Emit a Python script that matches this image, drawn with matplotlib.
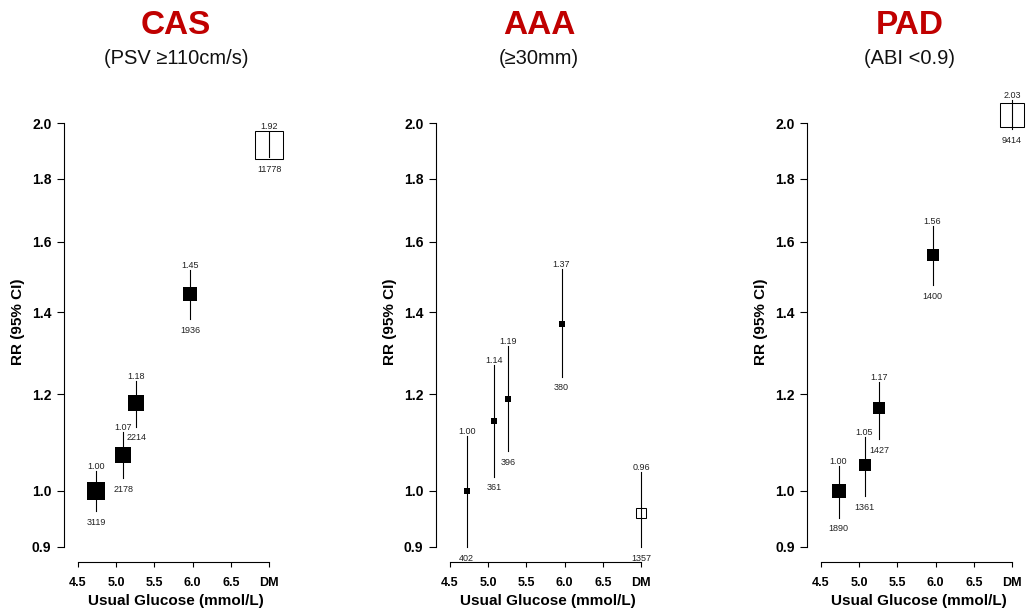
import numpy as np
import matplotlib.pyplot as plt
from matplotlib.ticker import FixedLocator, NullLocator, FixedFormatter

plt.rcParams['font.family'] = ['Liberation Sans', 'DejaVu Sans']

titles = ['CAS', 'AAA', 'PAD']
subtitles = ['(PSV ≥110cm/s)', '(≥30mm)', '(ABI <0.9)']

xtick_vals = [4.5, 5.0, 5.5, 6.0, 6.5, 7.0]
xtick_labels = ['4.5', '5.0', '5.5', '6.0', '6.5', 'DM']
ytick_vals = [0.9, 1.0, 1.2, 1.4, 1.6, 1.8, 2.0]
ytick_labels = ['0.9', '1.0', '1.2', '1.4', '1.6', '1.8', '2.0']

# usual glucose groups, last one is diabetes (DM)
cas_glucose = [4.74, 5.09, 5.26, 5.97, 7.0]
cas_rr = [1.00, 1.07, 1.18, 1.45, 1.92]
cas_lo = [0.963, 1.025, 1.129, 1.382, 1.875]
cas_hi = [1.039, 1.117, 1.231, 1.516, 1.966]
cas_n = [3119, 2178, 2214, 1936, 11778]

aaa_glucose = [4.72, 5.08, 5.26, 5.96, 7.0]
aaa_rr = [1.00, 1.14, 1.19, 1.37, 0.96]
aaa_lo = [0.90, 1.027, 1.078, 1.24, 0.90]
aaa_hi = [1.109, 1.267, 1.315, 1.52, 1.037]
aaa_n = [402, 361, 396, 380, 1357]

pad_glucose = [4.73, 5.07, 5.26, 5.96, 7.0]
pad_rr = [1.00, 1.05, 1.17, 1.56, 2.03]
pad_lo = [0.951, 0.99, 1.103, 1.474, 1.977]
pad_hi = [1.048, 1.107, 1.228, 1.648, 2.087]
pad_n = [1890, 1361, 1427, 1400, 9414]

panels = [
    (cas_glucose, cas_rr, cas_lo, cas_hi, cas_n),
    (aaa_glucose, aaa_rr, aaa_lo, aaa_hi, aaa_n),
    (pad_glucose, pad_rr, pad_lo, pad_hi, pad_n),
]

W, H = 1027, 614
fig = plt.figure(figsize=(W / 100, H / 100), dpi=100)

ax_left_px = [64, 436, 807]
title_x_px = [176, 539, 910]
ax_w, ax_top, ax_bot = 218.8, 100, 562

for i, (gx, rr, lo, hi, n) in enumerate(panels):
    ax = fig.add_axes([ax_left_px[i] / W, (H - ax_bot) / H, ax_w / W, (ax_bot - ax_top) / H])
    ax.set_yscale('log')
    ax.set_xlim(4.317, 7.18)
    ax.set_ylim(0.8748, 2.0888)

    for s in ['top', 'right']:
        ax.spines[s].set_visible(False)
    ax.spines['left'].set_bounds(0.9, 2.0)
    ax.spines['bottom'].set_bounds(4.5, 7.0)
    for s in ['left', 'bottom']:
        ax.spines[s].set_linewidth(0.8)

    ax.yaxis.set_major_locator(FixedLocator(ytick_vals))
    ax.yaxis.set_major_formatter(FixedFormatter(ytick_labels))
    ax.yaxis.set_minor_locator(NullLocator())
    ax.set_xticks(xtick_vals)
    ax.set_xticklabels(xtick_labels)
    ax.tick_params(axis='y', length=5, width=0.8, pad=4, labelsize=10)
    ax.tick_params(axis='x', length=3.6, width=0.8, pad=7.5, labelsize=9)
    for lab in ax.get_xticklabels() + ax.get_yticklabels():
        lab.set_fontweight('bold')

    ax.set_xlabel('Usual Glucose (mmol/L)', fontsize=11, fontweight='bold', va='center')
    ax.xaxis.set_label_coords(0.51, -0.084)
    ax.set_ylabel('RR (95% CI)', fontsize=11, fontweight='bold', va='center')
    ax.yaxis.set_label_coords(-0.21, 0.52)

    for j in range(len(gx)):
        size_px = 1.3 / np.log(hi[j] / lo[j])
        dm = j == len(gx) - 1
        ax.plot(gx[j], rr[j], marker='s', ms=size_px * 0.72,
                mfc='white' if dm else 'black', mec='black',
                mew=0.75 if dm else 0, clip_on=False, zorder=2)
        ax.plot([gx[j], gx[j]], [lo[j], hi[j]], color='black', lw=0.8,
                clip_on=False, zorder=3)

        y_rr = ax.transData.transform((gx[j], rr[j]))[1]
        y_hi = ax.transData.transform((gx[j], hi[j]))[1]
        y_lo = ax.transData.transform((gx[j], lo[j]))[1]
        up = max(y_hi - y_rr, size_px / 2) * 0.72
        down = max(y_rr - y_lo, size_px / 2) * 0.72
        ax.annotate(f'{rr[j]:.2f}', (gx[j], rr[j]), xytext=(0, up + 1.5),
                    textcoords='offset points', ha='center', va='baseline',
                    fontsize=6.5, color='#222222', annotation_clip=False)
        ax.annotate(f'{n[j]}', (gx[j], rr[j]), xytext=(0, -down - 9.8),
                    textcoords='offset points', ha='center', va='baseline',
                    fontsize=6.5, color='#222222', annotation_clip=False)

    fig.text(title_x_px[i] / W, 1 - 26 / H, titles[i], ha='center', va='center',
             fontsize=24, fontweight='bold', color='#C00000')
    fig.text(title_x_px[i] / W, 1 - 58 / H, subtitles[i], ha='center', va='center',
             fontsize=14.5, color='#111111')

plt.savefig('out.png', dpi=100)
